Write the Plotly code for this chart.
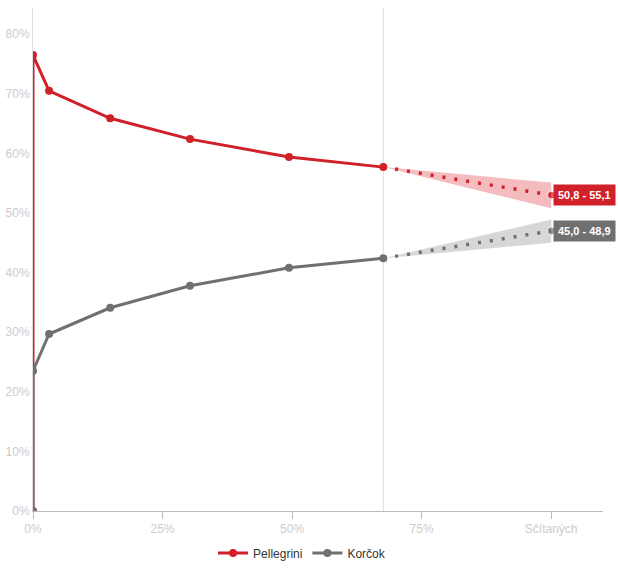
import plotly.graph_objects as go

# counted share (%) on x-axis
counted = [0, 0, 3.1, 14.9, 30.3, 49.4, 67.6]
pellegrini = [0, 76.5, 70.5, 65.9, 62.4, 59.4, 57.7]
korcok = [0, 23.5, 29.7, 34.1, 37.8, 40.8, 42.4]

# projection to 100 %
proj_x = [67.6, 100]
pell_proj = [57.7, 53.0]
kor_proj = [42.4, 47.0]
pell_range = [50.8, 55.1]
kor_range = [45.0, 48.9]
pell_label = "50,8 - 55,1"
kor_label = "45,0 - 48,9"

x_ticks = [0, 25, 50, 75, 100]
x_ticklabels = ["0%", "25%", "50%", "75%", "Sčítaných"]
y_ticks = [0, 10, 20, 30, 40, 50, 60, 70, 80]

RED = "#d0202a"
GRAY = "#707070"
FONT = "Liberation Sans, Arial, sans-serif"

fig = go.Figure()

# bands
fig.add_trace(go.Scatter(
    x=[proj_x[0], proj_x[1], proj_x[1], proj_x[0]],
    y=[pell_proj[0], pell_range[1], pell_range[0], pell_proj[0]],
    fill="toself", fillcolor="rgba(225,80,85,0.38)", line=dict(width=0),
    mode="lines", showlegend=False, hoverinfo="skip"))
fig.add_trace(go.Scatter(
    x=[proj_x[0], proj_x[1], proj_x[1], proj_x[0]],
    y=[kor_proj[0], kor_range[1], kor_range[0], kor_proj[0]],
    fill="toself", fillcolor="rgba(160,160,160,0.42)", line=dict(width=0),
    mode="lines", showlegend=False, hoverinfo="skip"))

# projections
fig.add_trace(go.Scatter(x=proj_x, y=pell_proj, mode="lines+markers",
    line=dict(color=RED, width=3.5, dash="3px,9px"),
    marker=dict(size=[0, 8], color=RED), showlegend=False, hoverinfo="skip"))
fig.add_trace(go.Scatter(x=proj_x, y=kor_proj, mode="lines+markers",
    line=dict(color=GRAY, width=3.5, dash="3px,9px"),
    marker=dict(size=[0, 8], color=GRAY), showlegend=False, hoverinfo="skip"))

# main series
fig.add_trace(go.Scatter(x=counted, y=pellegrini, mode="lines+markers", name="Pellegrini",
    line=dict(color=RED, width=3), marker=dict(size=8, color=RED)))
fig.add_trace(go.Scatter(x=counted, y=korcok, mode="lines+markers", name="Korčok",
    line=dict(color=GRAY, width=3), marker=dict(size=8, color=GRAY)))

# vertical line at current counted share
fig.add_shape(type="line", x0=proj_x[0], x1=proj_x[0], y0=0, y1=1, yref="paper",
              line=dict(color="#dddddd", width=1), layer="below")

# range labels
for yv, txt, col in [(pell_proj[1], pell_label, RED), (kor_proj[1], kor_label, GRAY)]:
    fig.add_annotation(x=proj_x[1], y=yv, text="<b>" + txt + "</b>", showarrow=False,
                       xanchor="left", yanchor="middle", xshift=2,
                       font=dict(color="white", size=11, family=FONT),
                       bgcolor=col, borderpad=4)

fig.update_layout(
    width=618, height=571,
    margin=dict(l=33, r=15, t=8, b=60, autoexpand=False),
    paper_bgcolor="white", plot_bgcolor="white",
    font=dict(family=FONT),
    showlegend=True,
    legend=dict(orientation="h", x=0.472, xanchor="center", y=-0.0835, yanchor="middle",
                itemwidth=30, font=dict(size=12, color="#333333")),
    xaxis=dict(range=[0, 110], tickvals=x_ticks, ticktext=x_ticklabels,
               showgrid=False, zeroline=False, showline=True, linecolor="#bbbbbb",
               ticks="outside", ticklen=7, tickcolor="#bbbbbb", automargin=False,
               tickfont=dict(size=12, color="#cccccc")),
    yaxis=dict(range=[0, 84.4], tickvals=y_ticks, ticktext=[f"{v}%" for v in y_ticks],
               showgrid=False, zeroline=False, showline=True, linecolor="#dddddd",
               ticks="", automargin=False, tickfont=dict(size=12, color="#cccccc")),
)

fig.write_html("out.html", config={"displayModeBar": False},
               post_script="document.body.style.margin='0';document.body.style.overflow='hidden';")
